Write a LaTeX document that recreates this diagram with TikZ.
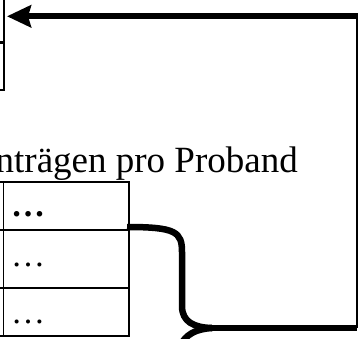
\documentclass[tikz,border=0pt]{standalone}
\usepackage{fontspec}
\setmainfont{Liberation Serif}
\usetikzlibrary{arrows.meta}
\tikzset{
  cell/.style={draw, line width=1.3pt, inner sep=0pt, outer sep=0pt, anchor=north west},
  dots/.style={anchor=base west, inner sep=0pt, font=\fontsize{34}{36}\selectfont},
  bracestroke/.style={line width=6.5pt, line cap=butt},
  heavy/.style={line width=6.5pt},
  slim/.style={line width=1.6pt}
}
\begin{document}
\begin{tikzpicture}[x=1pt, y=-1pt]
\useasboundingbox (0,0) rectangle (358,338);
\clip (0,0) rectangle (358,338);

% upper cells at the left margin
\node[cell, minimum width=64pt, minimum height=52pt] (topcell) at (-60,-10) {};
\node[cell, minimum width=64pt, minimum height=47pt] (midcell) at (-60,43) {};

% caption above the table
\node[anchor=base east, inner sep=0pt, font=\fontsize{37}{40}\selectfont] (caption) at (298,172) {nträgen pro Proband};

% table of entries
\node[cell, minimum width=60pt, minimum height=48pt] (l1) at (-56.5,182) {};
\node[cell, minimum width=60pt, minimum height=58pt] (l2) at (-56.5,230) {};
\node[cell, minimum width=60pt, minimum height=48pt] (l3) at (-56.5,288) {};
\node[cell, minimum width=125.5pt, minimum height=48pt] (c1) at (3.5,182) {};
\node[cell, minimum width=125.5pt, minimum height=58pt] (c2) at (3.5,230) {};
\node[cell, minimum width=125.5pt, minimum height=48pt] (c3) at (3.5,288) {};

\node[dots] (d1) at (11,216.5) {\textbf{…}};
\node[dots] (d2) at (11,266) {…};
\node[dots] (d3) at (11,323) {…};

% curly brace gathering the rows
\coordinate (tip) at (212,328);
\draw[bracestroke] ([shift={(-2,-3)}]c1.south east) .. controls (176,227) and (182,232) .. (182,252)
  -- (182,306) .. controls (182,322) and (194,327.5) .. (tip);
\draw[bracestroke] (tip) .. controls (196,329) and (186,334) .. (180,346);

% return connector back to the upper cell
\coordinate (br) at (357,328);
\coordinate (tr) at (357,16.3);
\coordinate (arrowend) at ([xshift=3pt]topcell.east |- tr);
\draw[heavy] (tip) -- (br);
\draw[slim] (br) -- (tr);
\draw[line width=6pt, -{Stealth[length=24pt, width=22pt, inset=3pt]}] (362,16.3) -- (arrowend);
\end{tikzpicture}
\end{document}
